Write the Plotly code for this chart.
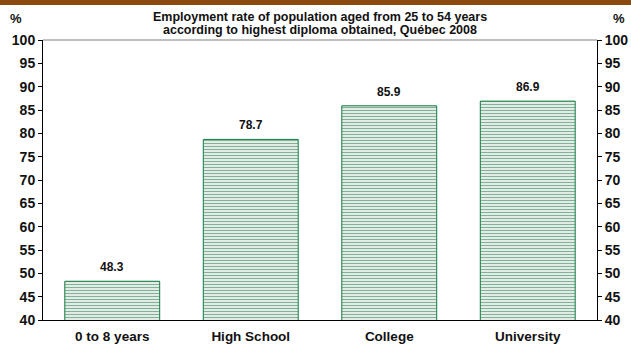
import plotly.graph_objects as go

categories = ["0 to 8 years", "High School", "College", "University"]
values = [48.3, 78.7, 85.9, 86.9]
tick_vals = [40, 45, 50, 55, 60, 65, 70, 75, 80, 85, 90, 95, 100]
title_lines = ["Employment rate of population aged from 25 to 54 years",
               "according to highest diploma obtained, Québec 2008"]

W, H = 631, 345
L, R, T, B = 43, 34, 40, 25
ph = H - T - B
pw = W - L - R

green = "#0A6632"
FAM = "Liberation Sans, Arial"
tick_font = dict(family=FAM, size=14, color="#111111")

fig = go.Figure()
fig.add_trace(go.Bar(
    x=categories, y=values, width=0.685,
    marker=dict(color="white", line=dict(color="#127A40", width=1),
                pattern=dict(shape="-", fgcolor=green, bgcolor="white", size=3, solidity=0.5)),
    showlegend=False,
))
fig.add_trace(go.Scatter(x=categories, y=values, yaxis="y2", mode="markers",
                         marker=dict(opacity=0), showlegend=False, hoverinfo="skip"))

annotations = [
    dict(x=c, y=v, xref="x", yref="y", text=f"<b>{v:.1f}</b>", showarrow=False,
         yanchor="bottom", yshift=5, font=dict(family=FAM, size=12, color="#111111"))
    for c, v in zip(categories, values)
]
for i, line in enumerate(title_lines):
    annotations.append(dict(text="<b>" + line + "</b>", xref="paper", yref="paper", x=0.5,
                            y=1 + (T - 17 - 13 * i) / ph, xanchor="center", yanchor="middle",
                            showarrow=False, font=dict(family=FAM, size=12.5, color="#111111")))
annotations += [
    dict(text="<b>%</b>", xref="paper", yref="paper", x=(-L + 8) / pw,
         y=1 + 22 / ph, xanchor="left", yanchor="middle", showarrow=False,
         font=dict(family=FAM, size=13, color="#111111")),
    dict(text="<b>%</b>", xref="paper", yref="paper", x=1 + (R - 4) / pw,
         y=1 + 22 / ph, xanchor="right", yanchor="middle", showarrow=False,
         font=dict(family=FAM, size=13, color="#111111")),
]

fig.update_layout(
    width=W, height=H, margin=dict(l=L, r=R, t=T, b=B, autoexpand=False),
    paper_bgcolor="white", plot_bgcolor="white",
    font=dict(family=FAM, size=11, color="#111111"),
    xaxis=dict(showline=True, linecolor="black", linewidth=1, ticks="", showgrid=False,
               tickvals=categories, ticktext=[f"<b>{c}</b>" for c in categories],
               tickfont=dict(family=FAM, size=13.5, color="#111111"), automargin=False,
               ticklabelstandoff=4),
    yaxis=dict(range=[40, 100], tickvals=tick_vals, ticktext=[f"<b>{v}</b>" for v in tick_vals],
               showgrid=False, showline=True, automargin=False,
               linecolor="black", linewidth=1, ticks="outside", ticklen=4, tickcolor="black",
               tickfont=tick_font, zeroline=False),
    yaxis2=dict(range=[40, 100], tickvals=tick_vals, ticktext=[f"<b>{v}</b>" for v in tick_vals],
                overlaying="y", side="right", showgrid=False, automargin=False,
                showline=True, linecolor="black", linewidth=1, ticks="outside", ticklen=4,
                tickcolor="black", zeroline=False, tickfont=tick_font),
    shapes=[
        dict(type="rect", xref="paper", yref="paper", x0=-L / pw, x1=1 + R / pw,
             y0=1 + (T - 5) / ph, y1=1 + (T + 2) / ph, fillcolor="#8B4A0E", line=dict(width=0)),
        dict(type="line", xref="paper", yref="paper", x0=0, x1=1, y0=1, y1=1,
             line=dict(color="#808080", width=1)),
    ],
    annotations=annotations,
)

fig.write_html("out.html")
